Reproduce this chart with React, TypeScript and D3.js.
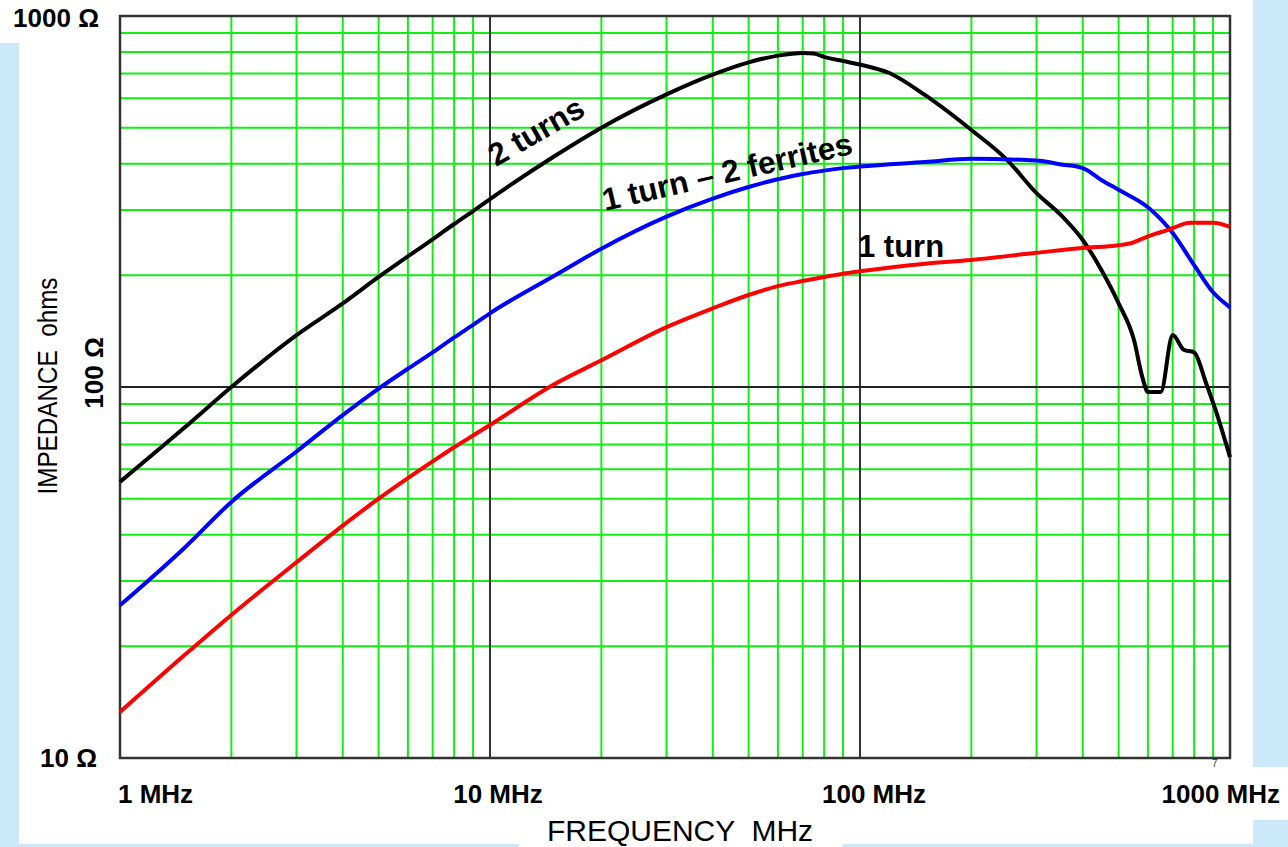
import React from 'react';
import * as d3 from 'd3';

// impedance vs frequency
const twoTurnsMHz = [1, 1.5, 2, 3, 4, 5, 6, 7, 8, 9, 10, 15, 20, 30, 40, 50, 60, 70, 75, 80, 90, 100, 120, 150, 200, 250, 300, 350, 400, 450, 500, 550, 580, 600, 650, 700, 750, 800, 860, 920, 1000];
const twoTurnsOhm = [55.5, 78, 100, 138, 168, 198, 225, 250, 275, 298, 321, 420, 500, 615, 695, 750, 782, 795, 792, 776, 756, 740, 702, 612, 493, 409, 333, 290, 249, 206, 168, 134, 106, 97, 97, 138, 126, 124, 103, 85, 64.7];

const twoFerritesMHz = [1, 1.5, 2, 3, 4, 5, 6, 7, 8, 9, 10, 15, 20, 30, 40, 50, 60, 70, 80, 90, 100, 150, 200, 300, 350, 400, 450, 500, 600, 700, 800, 900, 1000];
const twoFerritesOhm = [25.8, 37, 49, 67, 84, 99, 112, 124, 136, 147, 158, 200, 236, 288, 322, 346, 363, 375, 383, 389, 393, 404, 412, 408, 398, 389, 361, 340, 305, 260, 213, 180, 164];

const oneTurnMHz = [1, 1.5, 2, 3, 4, 5, 6, 7, 8, 9, 10, 15, 20, 30, 40, 50, 60, 70, 80, 90, 100, 150, 200, 300, 400, 500, 540, 580, 630, 680, 700, 780, 900, 1000];
const oneTurnOhm = [13.3, 19, 24.3, 33.7, 42.3, 50, 56.8, 63, 68.8, 74, 79, 102, 118, 145, 163, 177, 187, 193, 198, 202, 205, 215, 220, 230, 237, 241, 244, 251, 259, 265, 268, 277, 277, 270];

const xTickValues = [1, 10, 100, 1000];
const xTickLabels = ['1 MHz', '10 MHz', '100 MHz', '1000 MHz'];
const yTickValues = [10, 100, 1000];
const yTickLabels = ['10 Ω', '100 Ω', '1000 Ω'];

const W = 1288;
const H = 847;
const FONT = 'Liberation Sans, Arial, Helvetica, sans-serif';
const PANEL = '#cce9fb';
const GREEN = '#11ee11';

export default function App() {
  const x = d3.scaleLog().domain([1, 1000]).range([120, 1230]);
  const y = d3.scaleLog().domain([10, 1000]).range([758, 16]);

  const minorX: number[] = [];
  [1, 10, 100].forEach(d => d3.range(2, 10).forEach(k => minorX.push(d * k)));
  const minorY: number[] = [];
  [10, 100].forEach(d => d3.range(2, 10).forEach(k => minorY.push(d * k)));

  const line = d3.line<[number, number]>()
    .x(d => x(d[0]))
    .y(d => y(d[1]))
    .curve(d3.curveMonotoneX);

  const series = [
    { f: twoTurnsMHz, z: twoTurnsOhm, color: '#000000' },
    { f: twoFerritesMHz, z: twoFerritesOhm, color: '#0000ff' },
    { f: oneTurnMHz, z: oneTurnOhm, color: '#ff0000' },
  ];

  const [x0, x1] = x.range();
  const [y1, y0] = y.range();
  const pre = { whiteSpace: 'pre' as const };

  return (
    <svg width={W} height={H} style={{ position: 'absolute', left: 0, top: 0, background: '#fff' }} fontFamily={FONT}>
      {/* light blue side panels */}
      <rect x={0} y={43} width={19} height={H - 43} fill={PANEL} />
      <rect x={1253} y={0} width={W - 1253} height={767} fill={PANEL} />
      <rect x={1253} y={820} width={W - 1253} height={H - 820} fill={PANEL} />
      <rect x={0} y={844} width={519} height={3} fill={PANEL} />
      <rect x={843} y={844} width={W - 843} height={3} fill={PANEL} />

      {/* grid */}
      {minorX.map(v => (
        <line key={'gx' + v} x1={x(v)} x2={x(v)} y1={y0} y2={y1} stroke={GREEN} strokeWidth={2} />
      ))}
      {minorY.map(v => (
        <line key={'gy' + v} x1={x0} x2={x1} y1={y(v)} y2={y(v)} stroke={GREEN} strokeWidth={2} />
      ))}
      {[10, 100].map(v => (
        <line key={'mx' + v} x1={x(v)} x2={x(v)} y1={y0} y2={y1} stroke="#333" strokeWidth={2} />
      ))}
      <line x1={x0} x2={x1} y1={y(100)} y2={y(100)} stroke="#222" strokeWidth={2} />
      <rect x={x0} y={y0} width={x1 - x0} height={y1 - y0} fill="none" stroke="#333" strokeWidth={2.5} />

      {/* curves */}
      {series.map((s, i) => (
        <path
          key={i}
          d={line(s.f.map((f, j) => [f, s.z[j]] as [number, number])) || ''}
          fill="none"
          stroke={s.color}
          strokeWidth={4}
          strokeLinejoin="round"
        />
      ))}

      {/* curve labels */}
      <text transform="translate(496,167) rotate(-30)" fontSize={31.5} fontWeight="bold">2 turns</text>
      <text transform="translate(605,211) rotate(-13)" fontSize={31.5} fontWeight="bold">1 turn – 2 ferrites</text>
      <text x={858} y={257} fontSize={31} fontWeight="bold">1 turn</text>

      {/* y tick labels */}
      <text x={99} y={27} fontSize={26} fontWeight="bold" textAnchor="end">{yTickLabels[2]}</text>
      <text transform={`translate(103,${y(yTickValues[1]) - 14}) rotate(-90)`} fontSize={26} fontWeight="bold" textAnchor="middle">{yTickLabels[1]}</text>
      <text x={97} y={y(yTickValues[0]) + 9} fontSize={26} fontWeight="bold" textAnchor="end">{yTickLabels[0]}</text>
      <text transform="translate(57,386) rotate(-90)" fontSize={27} textAnchor="middle" textLength={217} lengthAdjust="spacingAndGlyphs" xmlSpace="preserve" style={pre}>IMPEDANCE  ohms</text>

      {/* x tick labels */}
      <text x={x(xTickValues[0]) - 2} y={803} fontSize={26} fontWeight="bold">{xTickLabels[0]}</text>
      <text x={x(xTickValues[1]) + 8} y={803} fontSize={26} fontWeight="bold" textAnchor="middle">{xTickLabels[1]}</text>
      <text x={x(xTickValues[2]) + 14} y={803} fontSize={26} fontWeight="bold" textAnchor="middle">{xTickLabels[2]}</text>
      <text x={x(xTickValues[3]) + 50} y={803} fontSize={26} fontWeight="bold" textAnchor="end">{xTickLabels[3]}</text>
      <text x={680} y={841} fontSize={30} textAnchor="middle" xmlSpace="preserve" style={pre}>FREQUENCY  MHz</text>
      <text x={1212} y={767} fontSize={10} fill="#333">7</text>
    </svg>
  );
}
